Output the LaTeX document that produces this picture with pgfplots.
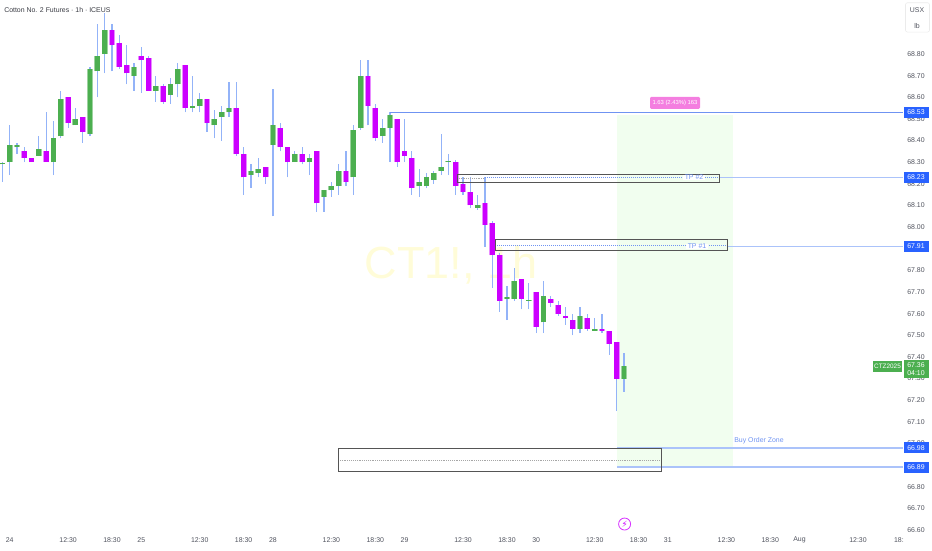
\documentclass[border=0pt]{standalone}
\usepackage{fontspec}
\setmainfont{Liberation Sans}
\newfontfamily\symfont{DejaVu Sans}
\usepackage{pgfplots}
\usepackage{pgfplotstable}
\pgfplotsset{compat=1.18}

\definecolor{wick}{HTML}{93B3F8}
\definecolor{upc}{HTML}{4CAF50}
\definecolor{downc}{HTML}{CC00FF}
\definecolor{zone}{HTML}{F1FEEF}
\definecolor{lvl}{HTML}{2962FF}
\definecolor{lvlline}{HTML}{ABC3FA}
\definecolor{lvlthin}{HTML}{6F93F2}
\definecolor{boxc}{HTML}{555555}
\definecolor{txt}{HTML}{50535E}
\definecolor{pinkc}{HTML}{F47EE0}
\definecolor{water}{HTML}{FFFCD8}

% i = bar number, up = 1 for a rising bar
\pgfplotstableread{
i  hi    top    bot   lo    up
0  68.30 68.295 68.29 68.21 1
1  68.47 68.38 68.30 68.24 1
2  68.39 68.38 68.37 68.34 1
3  68.37 68.35 68.32 68.30 0
4  68.32 68.32 68.30 68.30 0
5  68.42 68.36 68.33 68.33 1
6  68.53 68.35 68.30 68.30 0
7  68.49 68.41 68.30 68.24 1
8  68.63 68.59 68.42 68.41 1
9  68.60 68.60 68.48 68.46 0
10 68.55 68.50 68.47 68.47 1
11 68.51 68.51 68.44 68.39 0
12 68.74 68.73 68.43 68.42 1
13 68.94 68.79 68.72 68.60 1
14 68.99 68.91 68.80 68.71 1
15 68.94 68.91 68.84 68.72 0
16 68.89 68.85 68.74 68.73 0
17 68.84 68.75 68.71 68.66 0
18 68.76 68.74 68.70 68.63 1
19 68.83 68.79 68.77 68.62 0
20 68.79 68.78 68.63 68.63 0
21 68.70 68.65 68.63 68.58 1
22 68.66 68.65 68.58 68.57 0
23 68.69 68.66 68.61 68.57 1
24 68.76 68.73 68.66 68.60 1
25 68.75 68.75 68.55 68.53 0
26 68.70 68.56 68.55 68.53 1
27 68.62 68.59 68.56 68.53 1
28 68.59 68.59 68.48 68.44 0
29 68.54 68.50 68.47 68.41 1
30 68.56 68.53 68.51 68.40 1
31 68.67 68.55 68.53 68.51 1
32 68.67 68.55 68.34 68.33 0
33 68.37 68.34 68.23 68.15 0
34 68.29 68.26 68.24 68.18 1
35 68.32 68.27 68.25 68.23 1
36 68.28 68.28 68.23 68.20 0
37 68.64 68.47 68.38 68.05 1
38 68.48 68.46 68.37 68.35 0
39 68.37 68.37 68.30 68.23 0
40 68.35 68.34 68.30 68.30 1
41 68.37 68.34 68.30 68.29 0
42 68.34 68.32 68.30 68.24 1
43 68.35 68.35 68.11 68.07 0
44 68.17 68.17 68.14 68.07 1
45 68.21 68.19 68.17 68.14 1
46 68.29 68.26 68.19 68.15 1
47 68.35 68.26 68.21 68.19 0
48 68.47 68.45 68.23 68.15 1
49 68.77 68.70 68.46 68.45 1
50 68.77 68.70 68.56 68.47 0
51 68.57 68.55 68.41 68.40 0
52 68.50 68.46 68.42 68.39 1
53 68.53 68.52 68.46 68.30 1
54 68.50 68.50 68.30 68.28 0
55 68.50 68.35 68.33 68.30 0
56 68.35 68.32 68.18 68.15 0
57 68.27 68.21 68.19 68.14 1
58 68.25 68.23 68.19 68.18 1
59 68.26 68.25 68.22 68.20 1
60 68.43 68.28 68.26 68.24 1
61 68.34 68.305 68.30 68.24 1
62 68.31 68.30 68.19 68.15 0
63 68.23 68.20 68.16 68.15 0
64 68.23 68.16 68.10 68.09 0
65 68.15 68.10 68.09 68.08 1
66 68.23 68.11 68.01 67.91 0
67 68.03 68.02 67.87 67.72 0
68 67.88 67.87 67.66 67.61 0
69 67.73 67.675 67.67 67.57 1
70 67.81 67.75 67.67 67.66 1
71 67.76 67.76 67.67 67.62 0
72 67.74 67.665 67.66 67.62 1
73 67.70 67.70 67.54 67.51 0
74 67.75 67.68 67.56 67.51 1
75 67.68 67.67 67.65 67.63 0
76 67.66 67.64 67.60 67.59 0
77 67.63 67.59 67.58 67.55 0
78 67.60 67.57 67.53 67.50 0
79 67.63 67.59 67.53 67.51 1
80 67.60 67.58 67.53 67.52 0
81 67.58 67.53 67.52 67.52 1
82 67.60 67.53 67.52 67.51 0
83 67.52 67.52 67.46 67.41 0
84 67.47 67.47 67.30 67.15 0
85 67.42 67.36 67.30 67.24 1
}\bars

\pgfplotsset{
  page/.style={scale only axis, width=699pt, height=412.5pt, at={(0,0)}, anchor=south west,
    ymin=66.508, ymax=69.0495},
  stroke/.style 2 args={draw=none, mark=none, forget plot,
    error bars/y dir=plus, error bars/y explicit, error bars/error mark=none,
    error bars/error bar style={color=#1, line width=#2}},
}
\tikzset{
  tag/.style={fill=lvl, text=white, minimum width=18.75pt, minimum height=8.2pt, inner sep=0pt, font=\fontsize{5.2}{6}\selectfont},
  lab/.style={inner sep=0pt, text=lvlthin, font=\fontsize{5.2}{6}\selectfont},
}

\begin{document}
\begin{tikzpicture}
\path[use as bounding box] (0,0) rectangle (699pt,412.5pt);

% candles, time and price scales; x is the bar number
\begin{axis}[page,
    xmin=-0.314, xmax=127.12,
    axis line style={draw=none}, tick style={draw=none},
    tick label style={font=\fontsize{5.2}{6}\selectfont, text=txt, anchor=center},
    xtick={1,9,15,19,27,33,37,45,51,55,63,69,73,81,87,91,99,105,109,117,122.6},
    xticklabels={24,12:30,18:30,25,12:30,18:30,28,12:30,18:30,29,12:30,18:30,30,12:30,18:30,31,12:30,18:30,Aug,12:30,18:},
    x tick label style={yshift=7.5pt},
    ytick={66.6,66.7,66.8,66.9,67.0,67.1,67.2,67.3,67.4,67.5,67.6,67.7,67.8,67.9,68.0,68.1,68.2,68.3,68.4,68.5,68.6,68.7,68.8},
    yticklabel pos=right, ytick pos=right,
    y tick label style={xshift=-12pt, /pgf/number format/fixed, /pgf/number format/fixed zerofill, /pgf/number format/precision=2, /pgf/number format/assume math mode=true},
    scaled y ticks=false,
]
\addplot[fill=zone, draw=none, forget plot] coordinates {(84,68.52) (99.9,68.52) (99.9,66.887) (84,66.887)} -- cycle;
\node[text=water, font=\fontsize{33.75}{36}\selectfont] at (axis cs:61.35,67.825) {CT1!, 1h};

% wicks
\addplot[stroke={wick}{0.9pt}]
  table[x=i, y=lo, y error expr=\thisrow{hi}-\thisrow{lo}] {\bars};
% bodies, each with a pale edge
\addplot[stroke={upc!55!white}{4.4pt}, restrict expr to domain={\thisrow{up}}{0.5:1.5}]
  table[x=i, y=bot, y error expr=\thisrow{top}-\thisrow{bot}] {\bars};
\addplot[stroke={downc!45!white}{4.4pt}, restrict expr to domain={\thisrow{up}}{-0.5:0.5}]
  table[x=i, y=bot, y error expr=\thisrow{top}-\thisrow{bot}] {\bars};
\addplot[stroke={upc}{3.6pt}, restrict expr to domain={\thisrow{up}}{0.5:1.5}]
  table[x=i, y=bot, y error expr=\thisrow{top}-\thisrow{bot}] {\bars};
\addplot[stroke={downc}{3.6pt}, restrict expr to domain={\thisrow{up}}{-0.5:0.5}]
  table[x=i, y=bot, y error expr=\thisrow{top}-\thisrow{bot}] {\bars};
\end{axis}

% drawings on top; x is in pixels of the page
\begin{axis}[page, hide axis, clip=false, xmin=0, xmax=932]
\addplot[lvlthin, line width=0.75pt, mark=none] coordinates {(390,68.53) (903,68.53)};
\addplot[lvlline, line width=1.1pt, mark=none] coordinates {(719,68.23) (903,68.23)};
\addplot[lvlline, line width=1.1pt, mark=none] coordinates {(727,67.91) (903,67.91)};
\addplot[lvlline, line width=1.5pt, mark=none] coordinates {(617,66.98) (903,66.98)};
\addplot[lvlline, line width=1.5pt, mark=none] coordinates {(617,66.89) (903,66.89)};

\addplot[lvlthin, densely dotted, line width=0.5pt, mark=none] coordinates {(485,68.23) (719,68.23)};
\addplot[black!35, densely dotted, line width=0.4pt, mark=none] coordinates {(457,68.226) (485,68.226)};
\addplot[lvlthin, densely dotted, line width=0.5pt, mark=none] coordinates {(495,67.915) (727,67.915)};
\addplot[black!35, densely dotted, line width=0.4pt, mark=none] coordinates {(338,66.924) (661,66.924)};

\addplot[boxc, line width=0.6pt, mark=none] coordinates {(457,68.244) (719,68.244) (719,68.208) (457,68.208)} -- cycle;
\addplot[boxc, line width=0.6pt, mark=none] coordinates {(495,67.944) (727,67.944) (727,67.894) (495,67.894)} -- cycle;
\addplot[boxc, line width=0.7pt, mark=none] coordinates {(338,66.975) (661,66.975) (661,66.873) (338,66.873)} -- cycle;

\node[lab, fill=white, inner xsep=1.5pt] at (axis cs:694,68.23) {TP \#2};
\node[lab, fill=white, inner xsep=1.5pt] at (axis cs:697,67.91) {TP \#1};
\node[lab] at (axis cs:759,67.012) {Buy Order Zone};
\node[fill=pinkc, text=white, rounded corners=1pt, minimum width=37.5pt, minimum height=9pt, inner sep=0pt, font=\fontsize{4.4}{5}\selectfont] at (axis cs:675,68.574) {1.63 (2.43\%) 163};

\node[tag] at (axis cs:916,68.53) {68.53};
\node[tag] at (axis cs:916,68.23) {68.23};
\node[tag] at (axis cs:916,67.91) {67.91};
\node[tag] at (axis cs:916,66.98) {66.98};
\node[tag] at (axis cs:916,66.89) {66.89};
\node[tag, fill=upc, minimum width=21.7pt, font=\fontsize{4.8}{6}\selectfont] at (axis cs:887.5,67.358) {CTZ2025};
\node[tag, fill=upc, minimum height=13.5pt, align=center] at (axis cs:916,67.345) {67.36\\04:10};

\node[anchor=west, inner sep=0pt, text=txt!70!black, font=\fontsize{5.2}{6}\selectfont] at (axis cs:4,69.003) {Cotton No. 2 Futures · 1h · ICEUS};
\node[draw=black!8, fill=white, rounded corners=1.5pt, minimum width=18pt, minimum height=22pt, inner sep=0pt] at (axis cs:917.5,68.969) {};
\node[text=txt, font=\fontsize{5.2}{6}\selectfont, inner sep=0pt] at (axis cs:917,69.003) {USX};
\node[text=txt, font=\fontsize{5.2}{6}\selectfont, inner sep=0pt] at (axis cs:917,68.929) {lb};

\node[draw=downc!80!white, fill=white, circle, line width=0.6pt, minimum size=9pt, inner sep=0pt, text=downc, font=\symfont\fontsize{6.5}{7}\selectfont] at (axis cs:624.6,66.628) {⚡};
\end{axis}
\end{tikzpicture}
\end{document}
